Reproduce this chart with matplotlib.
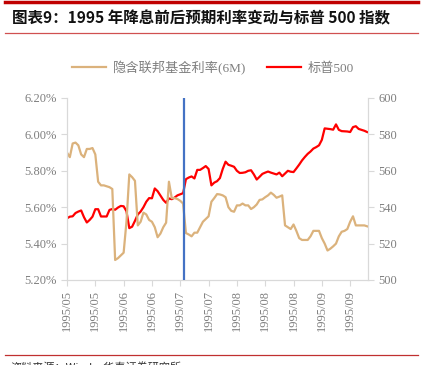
import matplotlib
matplotlib.use("Agg")
import matplotlib.pyplot as plt
from matplotlib.lines import Line2D

# 数据
tick_labels = ["1995/05", "1995/05", "1995/06", "1995/06", "1995/07", "1995/07",
               "1995/08", "1995/08", "1995/08", "1995/09", "1995/09"]

ffr_6m = [5.90, 5.875, 5.95, 5.955, 5.94, 5.89, 5.875, 5.92, 5.92, 5.925,
          5.89, 5.74, 5.72, 5.72, 5.715, 5.71, 5.70, 5.31, 5.32, 5.335,
          5.35, 5.52, 5.78, 5.765, 5.745, 5.50, 5.52, 5.57, 5.56, 5.53,
          5.52, 5.49, 5.435, 5.455, 5.49, 5.515, 5.74, 5.65, 5.65, 5.645,
          5.635, 5.62, 5.458, 5.45, 5.44, 5.46, 5.46, 5.49, 5.52, 5.535,
          5.55, 5.63, 5.65, 5.672, 5.67, 5.665, 5.655, 5.60, 5.58, 5.575,
          5.61, 5.61, 5.62, 5.61, 5.61, 5.59, 5.60, 5.615, 5.64, 5.643,
          5.655, 5.665, 5.68, 5.668, 5.652, 5.658, 5.665, 5.50, 5.49, 5.48,
          5.505, 5.47, 5.43, 5.42, 5.42, 5.42, 5.44, 5.47, 5.47, 5.47,
          5.43, 5.40, 5.362, 5.372, 5.385, 5.40, 5.44, 5.465, 5.47, 5.48,
          5.52, 5.55, 5.50, 5.50, 5.50, 5.50, 5.495]

spx = [533.9, 534.8, 535.0, 536.8, 537.6, 538.2, 534.5, 531.6, 533.0, 534.8,
       538.9, 538.9, 534.9, 534.9, 534.9, 538.5, 539.0, 538.6, 539.8, 540.7,
       540.5, 537.8, 528.5, 529.3, 532.5, 536.0, 537.6, 540.0, 543.0, 545.0,
       544.9, 550.3, 548.8, 546.4, 544.0, 542.4, 544.8, 544.4, 545.3, 546.5,
       547.1, 547.7, 555.4, 556.3, 556.9, 555.8, 560.5, 560.5, 561.5, 562.6,
       561.0, 552.0, 553.5, 554.3, 556.0, 561.0, 565.0, 563.3, 562.8, 562.2,
       560.0, 558.8, 558.9, 559.2, 560.0, 560.3, 558.0, 555.2, 556.7, 558.3,
       559.0, 559.6, 559.0, 558.5, 558.0, 559.0, 557.0, 558.5, 560.0, 559.5,
       559.3, 561.3, 563.4, 565.7, 567.6, 569.3, 570.6, 572.2, 573.0, 574.0,
       577.0, 583.3, 583.1, 582.9, 582.6, 585.5, 582.5, 581.8, 581.7, 581.6,
       581.3, 584.0, 584.5, 583.0, 582.5, 582.0, 581.3]

cut_idx = 41.3  # 降息日

TAN = "#DBB27C"
RED = "#FF0000"
GRAY = "#7F7F7F"
GRID = "#D9D9D9"
serif = ["Liberation Serif", "Noto Sans CJK SC"]

fig = plt.figure(figsize=(4.21, 3.65), dpi=100)

# 标题与装饰线
fig.add_artist(Line2D([5/421, 418/421], [1 - 1.5/365, 1 - 1.5/365], color="#C00000", lw=2.5))
fig.text(12/421, 1 - 18/365, "图表9：1995 年降息前后预期利率变动与标普 500 指数",
         family=["Noto Sans CJK SC"], fontsize=11.2, fontweight="bold",
         va="center", ha="left", color="#111111")
fig.add_artist(Line2D([5/421, 418/421], [1 - 32.5/365, 1 - 32.5/365], color="#D05050", lw=0.9))
fig.add_artist(Line2D([5/421, 418/421], [1 - 355/365, 1 - 355/365], color="#C03030", lw=0.9))
# 原图底部的资料来源只露出上沿
fig.text(10/421, 1 - 361.5/365, "资料来源：Wind，华泰证券研究所", family=["Noto Sans CJK SC"],
         fontsize=8, va="top", ha="left", color="#333333")

ax = fig.add_axes([67/421, (365-280)/365, 301/421, 182/365])
ax2 = ax.twinx()

x = list(range(len(ffr_6m)))
l1, = ax.plot(x, ffr_6m, color=TAN, lw=1.6, solid_joinstyle="round")
l2, = ax2.plot(x, spx, color=RED, lw=1.6, solid_joinstyle="round")
ax.axvline(cut_idx, color="#4472C4", lw=1.6, zorder=5)

ax.set_zorder(ax2.get_zorder() + 1)
ax.patch.set_visible(False)

ax.set_xlim(0, 106.3)
ax.set_ylim(5.2, 6.2)
ax2.set_ylim(500, 600)
ax.set_yticks([5.2, 5.4, 5.6, 5.8, 6.0, 6.2])
ax.set_yticklabels(["%.2f%%" % v for v in [5.2, 5.4, 5.6, 5.8, 6.0, 6.2]])
ax2.set_yticks([500, 520, 540, 560, 580, 600])
ax.set_xticks(range(0, 101, 10))
ax.set_xticklabels(tick_labels, rotation=90)

for a in (ax, ax2):
    for s in a.spines.values():
        s.set_color(GRID)
    a.spines["top"].set_visible(False)
    a.tick_params(colors=GRID, labelcolor=GRAY, labelsize=9, length=4, width=0.8)
    for lab in a.get_xticklabels() + a.get_yticklabels():
        lab.set_family(serif)
ax.tick_params(axis="x", length=4, pad=3)

fig.legend([l1, l2], ["隐含联邦基金利率(6M)", "标普500"], loc="center",
           bbox_to_anchor=(213/421, 1 - 68/365), ncol=2, frameon=False,
           prop={"family": serif, "size": 9.5}, labelcolor=GRAY,
           handlelength=2.6, columnspacing=1.6, handletextpad=0.5)

fig.savefig("out.png", dpi=100, facecolor="white")
